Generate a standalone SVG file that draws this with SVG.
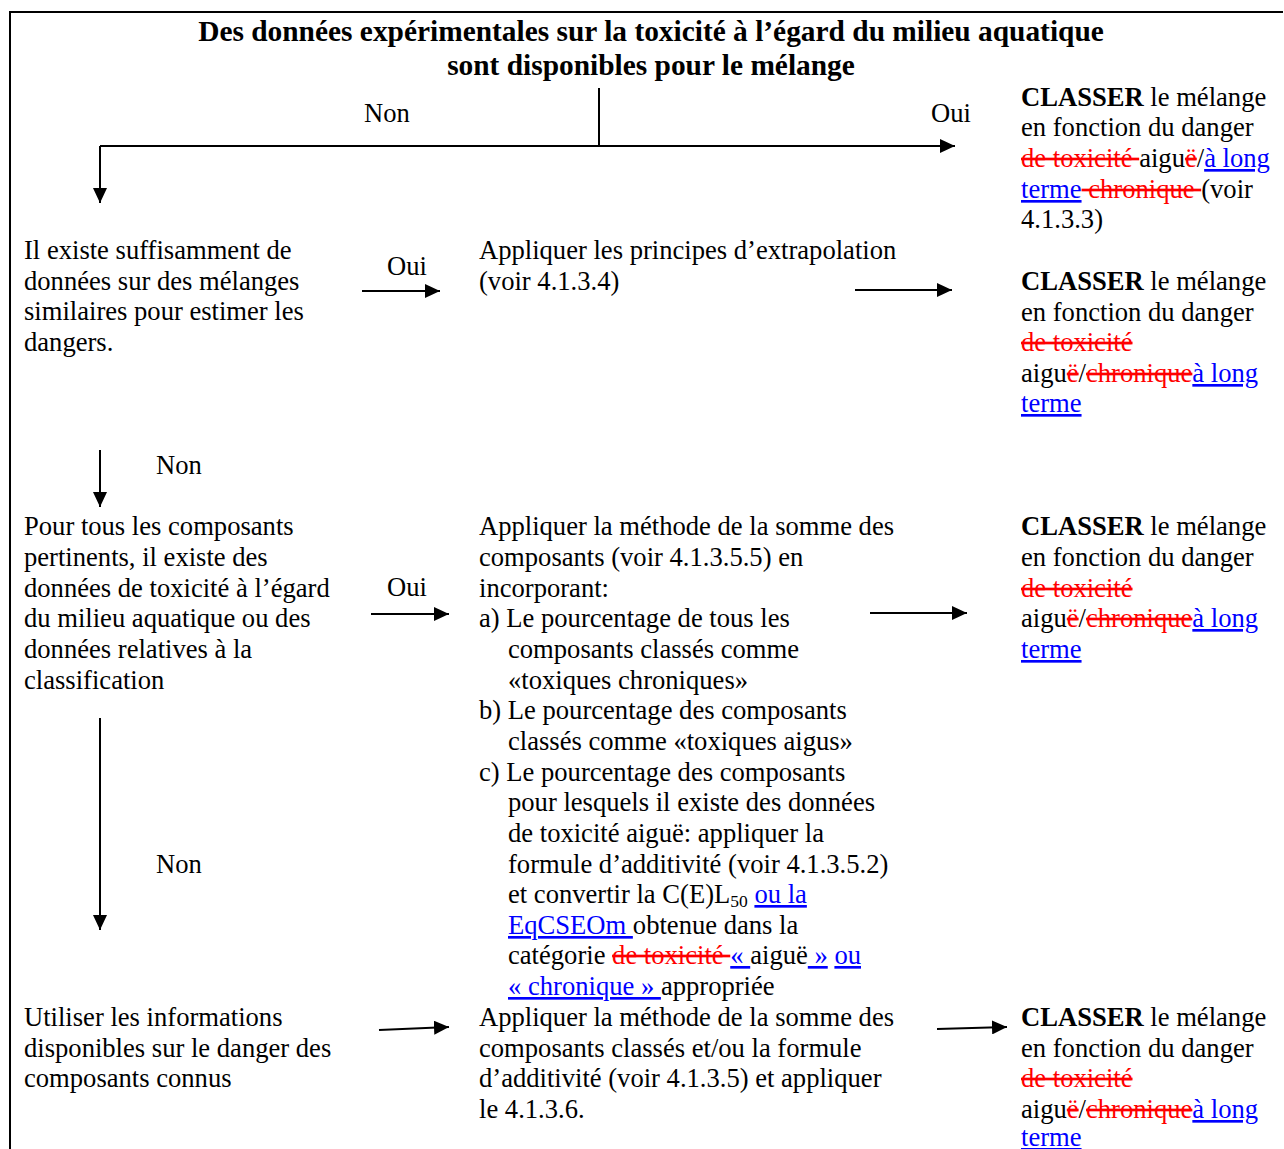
<svg xmlns="http://www.w3.org/2000/svg" width="1284" height="1149" viewBox="0 0 1284 1149">
<defs>
<marker id="ah" markerUnits="userSpaceOnUse" markerWidth="16" markerHeight="14" refX="15" refY="7" orient="auto">
<path d="M0,0 L15,7 L0,14 z" fill="#000"/>
</marker>
<style>
text{font-family:"Liberation Serif","Times New Roman",serif;font-size:26.6px;fill:#000}
.t{font-weight:bold;font-size:29.4px}
.b{font-weight:bold}
.del{fill:#ff0000;text-decoration:line-through}
.ins{fill:#0000ff;text-decoration:underline}
.c{stroke:#000;stroke-width:2;fill:none}
.a{stroke:#000;stroke-width:2;fill:none;marker-end:url(#ah)}
.sub{font-size:17.5px}
</style>
</defs>
<rect width="1284" height="1149" fill="#fff"/>
<g id="frame">
<line x1="9" y1="12" x2="1283" y2="12" stroke="#000" stroke-width="2"/>
<line x1="10" y1="11" x2="10" y2="1149" stroke="#000" stroke-width="2"/>
</g>
<g id="connectors">
<line class="c" x1="599" y1="88" x2="599" y2="146"/>
<line class="a" x1="100" y1="146" x2="955" y2="146"/>
<line class="a" x1="100" y1="146" x2="100" y2="203"/>
<line class="a" x1="362" y1="291" x2="440" y2="291"/>
<line class="a" x1="855" y1="290" x2="952" y2="290"/>
<line class="a" x1="100" y1="450" x2="100" y2="507"/>
<line class="a" x1="371" y1="614" x2="449" y2="614"/>
<line class="a" x1="870" y1="613" x2="967" y2="613"/>
<line class="a" x1="100" y1="718" x2="100" y2="930"/>
<line class="a" x1="379" y1="1030" x2="449" y2="1027"/>
<line class="a" x1="937" y1="1029" x2="1007" y2="1027"/>
<g transform="translate(0,1)">
<text x="364" y="121">Non</text>
<text x="931" y="121">Oui</text>
<text x="387" y="274">Oui</text>
<text x="156" y="473">Non</text>
<text x="387" y="595">Oui</text>
<text x="156" y="872">Non</text>
</g>
</g>
<g id="title" transform="translate(0,1)">
<text class="t" x="651" y="40" text-anchor="middle">Des données expérimentales sur la toxicité à l’égard du milieu aquatique</text>
<text class="t" x="651" y="74" text-anchor="middle">sont disponibles pour le mélange</text>
</g>
<g id="classer1" transform="translate(0,1)">
<text x="1021" y="105"><tspan class="b">CLASSER</tspan> le mélange</text>
<text x="1021" y="135">en fonction du danger</text>
<text x="1021" y="166"><tspan class="del">de toxicité </tspan>aigu<tspan class="del">ë</tspan>/<tspan class="ins">à long</tspan></text>
<text x="1021" y="197"><tspan class="ins">terme</tspan><tspan class="del"> chronique </tspan>(voir</text>
<text x="1021" y="227">4.1.3.3)</text>
</g>
<g id="similaires" transform="translate(0,1)">
<text x="24" y="258">Il existe suffisamment de</text>
<text x="24" y="289">données sur des mélanges</text>
<text x="24" y="319">similaires pour estimer les</text>
<text x="24" y="350">dangers.</text>
</g>
<g id="extrapolation" transform="translate(0,1)">
<text x="479" y="258">Appliquer les principes d’extrapolation</text>
<text x="479" y="289">(voir 4.1.3.4)</text>
</g>
<g id="classer2" transform="translate(0,1)">
<text x="1021" y="289"><tspan class="b">CLASSER</tspan> le mélange</text>
<text x="1021" y="320">en fonction du danger</text>
<text x="1021" y="350"><tspan class="del">de toxicité</tspan></text>
<text x="1021" y="381">aigu<tspan class="del">ë</tspan>/<tspan class="del">chronique</tspan><tspan class="ins">à long</tspan></text>
<text x="1021" y="411"><tspan class="ins">terme</tspan></text>
</g>
<g id="composants" transform="translate(0,1)">
<text x="24" y="534">Pour tous les composants</text>
<text x="24" y="565">pertinents, il existe des</text>
<text x="24" y="596">données de toxicité à l’égard</text>
<text x="24" y="626">du milieu aquatique ou des</text>
<text x="24" y="657">données relatives à la</text>
<text x="24" y="688">classification</text>
</g>
<g id="somme" transform="translate(0,1)">
<text x="479" y="534">Appliquer la méthode de la somme des</text>
<text x="479" y="565">composants (voir 4.1.3.5.5) en</text>
<text x="479" y="596">incorporant:</text>
<text x="479" y="626">a) Le pourcentage de tous les</text>
<text x="508" y="657">composants classés comme</text>
<text x="508" y="688">«toxiques chroniques»</text>
<text x="479" y="718">b) Le pourcentage des composants</text>
<text x="508" y="749">classés comme «toxiques aigus»</text>
<text x="479" y="780">c) Le pourcentage des composants</text>
<text x="508" y="810">pour lesquels il existe des données</text>
<text x="508" y="841">de toxicité aiguë: appliquer la</text>
<text x="508" y="872">formule d’additivité (voir 4.1.3.5.2)</text>
<text x="508" y="902">et convertir la C(E)L<tspan class="sub" dy="4">50</tspan><tspan dy="-4"> </tspan><tspan class="ins">ou la</tspan></text>
<text x="508" y="933"><tspan class="ins">EqCSEOm </tspan>obtenue dans la</text>
<text x="508" y="963">catégorie <tspan class="del">de toxicité </tspan><tspan class="ins">« </tspan>aiguë<tspan class="ins"> »</tspan> <tspan class="ins">ou</tspan></text>
<text x="508" y="994"><tspan class="ins">« chronique » </tspan>appropriée</text>
</g>
<g id="classer3" transform="translate(0,1)">
<text x="1021" y="534"><tspan class="b">CLASSER</tspan> le mélange</text>
<text x="1021" y="565">en fonction du danger</text>
<text x="1021" y="596"><tspan class="del">de toxicité</tspan></text>
<text x="1021" y="626">aigu<tspan class="del">ë</tspan>/<tspan class="del">chronique</tspan><tspan class="ins">à long</tspan></text>
<text x="1021" y="657"><tspan class="ins">terme</tspan></text>
</g>
<g id="informations" transform="translate(0,1)">
<text x="24" y="1025">Utiliser les informations</text>
<text x="24" y="1056">disponibles sur le danger des</text>
<text x="24" y="1086">composants connus</text>
</g>
<g id="additivite" transform="translate(0,1)">
<text x="479" y="1025">Appliquer la méthode de la somme des</text>
<text x="479" y="1056">composants classés et/ou la formule</text>
<text x="479" y="1086">d’additivité (voir 4.1.3.5) et appliquer</text>
<text x="479" y="1117">le 4.1.3.6.</text>
</g>
<g id="classer4" transform="translate(0,1)">
<text x="1021" y="1025"><tspan class="b">CLASSER</tspan> le mélange</text>
<text x="1021" y="1056">en fonction du danger</text>
<text x="1021" y="1086"><tspan class="del">de toxicité</tspan></text>
<text x="1021" y="1117">aigu<tspan class="del">ë</tspan>/<tspan class="del">chronique</tspan><tspan class="ins">à long</tspan></text>
<text x="1021" y="1145"><tspan class="ins">terme</tspan></text>
</g>
</svg>
